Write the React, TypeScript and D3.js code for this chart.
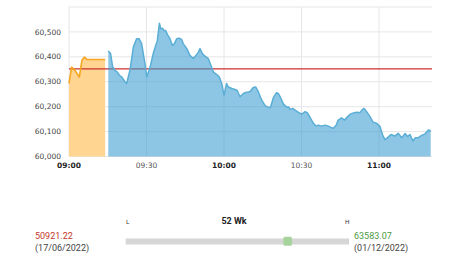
import React from "react";
import * as d3 from "d3";

// ---- data ----
const yTicks = [60000, 60100, 60200, 60300, 60400, 60500];
const xTickMinutes = [0, 30, 60, 90, 120];
const xTickLabels = ["09:00", "09:30", "10:00", "10:30", "11:00"];
const xTickBold = [true, false, true, false, true];

const preMinutes = [0, 1, 2, 4, 5, 6, 7, 14];
const preValues = [60293, 60359, 60350, 60319, 60386, 60399, 60389, 60389];

const mainMinutes = [
  15.2, 16.1, 16.9, 17.8, 18.7, 19.5, 20.4, 21.7, 22.3, 23.6, 24.9, 26.2, 27.1, 28.1, 29.4, 30.1,
  31.4, 32.6, 34.2, 35.0, 35.5, 36.1, 36.8, 37.4, 38.1, 39.1, 40.0, 40.8, 41.7, 42.6, 43.6, 44.2,
  45.6, 46.8, 48.1, 49.2, 50.1, 50.7, 51.6, 52.6, 53.9, 54.9, 55.9, 57.2, 58.2, 59.1, 60.0, 61.0,
  61.7, 63.0, 64.3, 65.1, 66.2, 67.5, 68.4, 69.4, 70.1, 71.3, 72.3, 73.3, 74.6, 75.9, 77.2, 78.0,
  79.1, 80.3, 81.0, 81.9, 83.0, 84.3, 85.0, 85.5, 86.6, 87.5, 88.8, 90.1, 91.4, 92.3, 93.3, 94.6,
  95.6, 96.5, 97.8, 99.1, 100.4, 101.0, 102.3, 103.4, 104.2, 105.5, 106.6, 107.7, 108.8, 110.1,
  111.4, 112.6, 113.5, 114.2, 115.2, 116.5, 117.6, 119.1, 120.4, 121.4, 122.3, 123.4, 124.6, 126.2,
  127.4, 128.8, 130.1, 131.0, 132.0, 133.1, 134.0, 135.1, 136.5, 137.8, 139.1, 140.0,
];
const mainValues = [
  60423, 60413, 60359, 60346, 60339, 60326, 60319, 60299, 60293, 60346, 60439, 60473, 60473, 60453, 60373, 60319,
  60359, 60413, 60466, 60535, 60513, 60515, 60506, 60506, 60489, 60473, 60446, 60453, 60473, 60475, 60470, 60453,
  60433, 60406, 60393, 60406, 60419, 60433, 60413, 60403, 60393, 60366, 60339, 60329, 60319, 60293, 60246, 60293,
  60279, 60273, 60269, 60265, 60240, 60253, 60257, 60259, 60261, 60277, 60279, 60259, 60226, 60204, 60197, 60198,
  60236, 60256, 60253, 60236, 60210, 60198, 60199, 60189, 60193, 60186, 60177, 60170, 60180, 60175, 60157, 60133,
  60122, 60126, 60122, 60126, 60122, 60119, 60113, 60125, 60146, 60155, 60146, 60158, 60170, 60175,
  60178, 60176, 60188, 60193, 60180, 60160, 60139, 60133, 60120, 60086, 60068, 60077, 60088, 60082,
  60093, 60075, 60092, 60080, 60088, 60062, 60075, 60075, 60085, 60091, 60106, 60103,
];

const prevClose = 60352;
const low52 = 50921.22;
const high52 = 63583.07;
const low52Label = "50921.22";
const high52Label = "63583.07";
const low52Date = "(17/06/2022)";
const high52Date = "(01/12/2022)";

export default function App() {
  const x = d3.scaleLinear().domain([0, 140.5]).range([69, 432]);
  const y = d3.scaleLinear().domain([60000, 60600]).range([156.5, 7]);

  const pre = preMinutes.map((m, i) => [m, preValues[i]] as [number, number]);
  const main = mainMinutes.map((m, i) => [m, mainValues[i]] as [number, number]);

  const area = d3
    .area<[number, number]>()
    .x((d) => x(d[0]))
    .y0(y(60000))
    .y1((d) => y(d[1]));
  const line = d3
    .line<[number, number]>()
    .x((d) => x(d[0]))
    .y((d) => y(d[1]));

  const slider = d3.scaleLinear().domain([low52, high52]).range([125.7, 349]);
  const cur = mainValues[mainValues.length - 1];

  const axisFont = "'DejaVu Sans', Verdana, sans-serif";
  const rob = "Roboto, sans-serif";

  return (
    <svg
      width={474}
      height={266}
      style={{ position: "absolute", left: 0, top: 0, background: "#fff" }}
    >
      {/* grid */}
      {[60600, ...yTicks].map((t) => (
        <line key={"h" + t} x1={69} x2={432} y1={y(t)} y2={y(t)} stroke="#e6e6e6" strokeWidth={1} />
      ))}
      {xTickMinutes.map((m) => (
        <line key={"v" + m} x1={x(m)} x2={x(m)} y1={y(60600)} y2={y(60000)} stroke="#e6e6e6" strokeWidth={1} />
      ))}
      {/* y labels */}
      {yTicks.map((t) => (
        <text
          key={"yl" + t}
          x={61}
          y={y(t)}
          dy="0.35em"
          textAnchor="end"
          fontFamily={axisFont}
          fontSize={7.5}
          fill="#444"
        >
          {d3.format(",")(t)}
        </text>
      ))}
      {/* x labels */}
      {xTickMinutes.map((m, i) => (
        <text
          key={"xl" + m}
          x={x(m)}
          y={168}
          textAnchor="middle"
          fontFamily={axisFont}
          fontSize={7.5}
          fontWeight={xTickBold[i] ? "bold" : "normal"}
          fill={xTickBold[i] ? "#222" : "#555"}
        >
          {xTickLabels[i]}
        </text>
      ))}
      {/* pre-open area */}
      <path d={area(pre) || ""} fill="#ffd591" />
      {/* previous close */}
      <line x1={69} x2={432} y1={y(prevClose)} y2={y(prevClose)} stroke="#c9302c" strokeWidth={1.3} />
      {/* main area */}
      <path d={area(main) || ""} fill="#3a9dd0" fillOpacity={0.58} />
      <path d={line(pre) || ""} fill="none" stroke="#f5a623" strokeWidth={1.6} strokeLinejoin="round" />
      <path d={line(main) || ""} fill="none" stroke="#5aaed6" strokeWidth={1.5} strokeLinejoin="round" />

      {/* 52 week range */}
      <text x={126} y={223.5} fontFamily={axisFont} fontSize={6} fill="#333">L</text>
      <text x={234} y={224} textAnchor="middle" fontFamily={rob} fontSize={9} fontWeight="bold" fill="#222">
        52 Wk
      </text>
      <text x={345} y={223.5} fontFamily={axisFont} fontSize={6} fill="#333">H</text>
      <rect x={slider(low52)} y={238.5} width={slider(high52) - slider(low52)} height={6} fill="#d6d6d6" />
      <rect x={slider(cur) - 4.2} y={236.7} width={8.5} height={9} rx={1.5} fill="#a6d49c" />

      <text x={35} y={239} fontFamily={rob} fontSize={9} fill="#c0392b">{low52Label}</text>
      <text x={35} y={250.5} fontFamily={rob} fontSize={9} fill="#444">{low52Date}</text>
      <text x={354} y={239} fontFamily={rob} fontSize={9} fill="#4e9a3f">{high52Label}</text>
      <text x={354} y={250.5} fontFamily={rob} fontSize={9} fill="#444">{high52Date}</text>
    </svg>
  );
}
